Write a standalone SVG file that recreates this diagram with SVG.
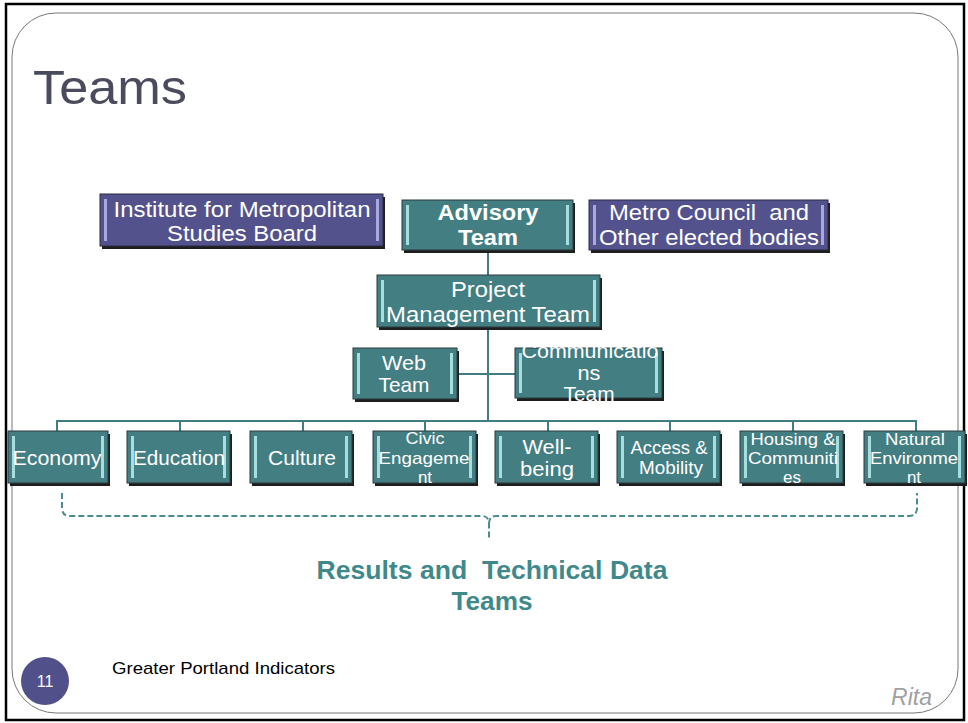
<svg xmlns="http://www.w3.org/2000/svg" width="968" height="723" viewBox="0 0 968 723">
<defs>
<style>
text{white-space:pre}
.t{font-family:"Liberation Sans",Arial,sans-serif;fill:#fff;text-anchor:middle}
.sh{fill:#1e1e1e}
.teal{fill:#437e82;stroke:#2a3a3c;stroke-width:1}
.purp{fill:#54528c;stroke:#2a2a40;stroke-width:1}
.hlt{fill:#a6dede}
.hlp{fill:#a9a8dc}
.con{fill:none;stroke:#3f7f83;stroke-width:2}
.dash{fill:none;stroke:#4a8c90;stroke-width:2;stroke-dasharray:6 3}
</style>
</defs>
<rect x="0" y="0" width="968" height="723" fill="#fff"/>
<rect x="6" y="4" width="958" height="716" fill="none" stroke="#000" stroke-width="2.5"/>
<rect x="12" y="13" width="946" height="700" rx="44" ry="44" fill="none" stroke="#777" stroke-width="1"/>
<text x="33" y="104" textLength="154" lengthAdjust="spacingAndGlyphs" style="font-family:'Liberation Sans',Arial,sans-serif;font-size:49px;fill:#4a4b5c">Teams</text>

<g id="connectors">
<line class="con" x1="488" y1="250" x2="488" y2="422"/>
<line class="con" x1="457" y1="374" x2="515" y2="374"/>
<polyline class="con" points="57,431 57,421 916,421 916,431"/>
<line class="con" x1="180" y1="421" x2="180" y2="431"/>
<line class="con" x1="303" y1="421" x2="303" y2="431"/>
<line class="con" x1="425" y1="421" x2="425" y2="431"/>
<line class="con" x1="548" y1="421" x2="548" y2="431"/>
<line class="con" x1="670" y1="421" x2="670" y2="431"/>
<line class="con" x1="793" y1="421" x2="793" y2="431"/>
<path class="dash" d="M62,493 V508 Q62,516 70,516 H482 Q489,516 489,524 V538 M489,524 Q489,516 496,516 H909 Q917,516 917,508 V493"/>
</g>

<g id="institute">
<rect class="sh" x="102" y="197" width="283" height="52"/>
<rect class="purp" x="100" y="194" width="283" height="52"/>
<rect class="hlp" x="104" y="199" width="3" height="42"/>
<rect class="hlp" x="376" y="199" width="3" height="42"/>
<text class="t" x="242" y="217" font-size="22" textLength="257" lengthAdjust="spacingAndGlyphs">Institute for Metropolitan</text>
<text class="t" x="242" y="241" font-size="22" textLength="150" lengthAdjust="spacingAndGlyphs">Studies Board</text>
</g>

<g id="advisory">
<rect class="sh" x="404" y="203" width="171" height="50"/>
<rect class="teal" x="402" y="200" width="171" height="50"/>
<rect class="hlt" x="406" y="205" width="3" height="40"/>
<rect class="hlt" x="566" y="205" width="3" height="40"/>
<text class="t" x="488" y="220" font-size="22" font-weight="bold" textLength="101" lengthAdjust="spacingAndGlyphs">Advisory</text>
<text class="t" x="488" y="245" font-size="22" font-weight="bold" textLength="60" lengthAdjust="spacingAndGlyphs">Team</text>
</g>

<g id="metro">
<rect class="sh" x="591" y="203" width="239" height="50"/>
<rect class="purp" x="589" y="200" width="239" height="50"/>
<rect class="hlp" x="593" y="205" width="3" height="40"/>
<rect class="hlp" x="821" y="205" width="3" height="40"/>
<text class="t" x="709" y="220" font-size="22" textLength="200" lengthAdjust="spacingAndGlyphs">Metro Council  and</text>
<text class="t" x="709" y="245" font-size="22" textLength="220" lengthAdjust="spacingAndGlyphs">Other elected bodies</text>
</g>

<g id="pmt">
<rect class="sh" x="379" y="278" width="223" height="52"/>
<rect class="teal" x="377" y="275" width="223" height="52"/>
<rect class="hlt" x="381" y="280" width="3" height="42"/>
<rect class="hlt" x="593" y="280" width="3" height="42"/>
<text class="t" x="488" y="297" font-size="22" textLength="74" lengthAdjust="spacingAndGlyphs">Project</text>
<text class="t" x="488" y="322" font-size="22" textLength="204" lengthAdjust="spacingAndGlyphs">Management Team</text>
</g>

<g id="web">
<rect class="sh" x="355" y="351" width="104" height="51"/>
<rect class="teal" x="353" y="348" width="104" height="51"/>
<rect class="hlt" x="357" y="353" width="3" height="41"/>
<rect class="hlt" x="450" y="353" width="3" height="41"/>
<text class="t" x="404" y="370" font-size="21" textLength="44" lengthAdjust="spacingAndGlyphs">Web</text>
<text class="t" x="404" y="392" font-size="21" textLength="51" lengthAdjust="spacingAndGlyphs">Team</text>
</g>

<g id="comm">
<rect class="sh" x="517" y="351" width="147" height="50"/>
<rect class="teal" x="515" y="348" width="147" height="50"/>
<rect class="hlt" x="519" y="353" width="3" height="40"/>
<rect class="hlt" x="655" y="353" width="3" height="40"/>
<text class="t" x="590" y="358" font-size="20" textLength="137" lengthAdjust="spacingAndGlyphs">Communicatio</text>
<text class="t" x="589" y="380" font-size="20" textLength="23" lengthAdjust="spacingAndGlyphs">ns</text>
<text class="t" x="589" y="401" font-size="20" textLength="51" lengthAdjust="spacingAndGlyphs">Team</text>
</g>

<g id="economy">
<rect class="sh" x="10" y="434" width="100" height="52"/>
<rect class="teal" x="8" y="431" width="100" height="52"/>
<rect class="hlt" x="12" y="436" width="3" height="42"/>
<rect class="hlt" x="101" y="436" width="3" height="42"/>
<text class="t" x="57" y="465" font-size="21" textLength="89" lengthAdjust="spacingAndGlyphs">Economy</text>
</g>

<g id="education">
<rect class="sh" x="129" y="434" width="103" height="52"/>
<rect class="teal" x="127" y="431" width="103" height="52"/>
<rect class="hlt" x="131" y="436" width="3" height="42"/>
<rect class="hlt" x="223" y="436" width="3" height="42"/>
<text class="t" x="179" y="465" font-size="21" textLength="92" lengthAdjust="spacingAndGlyphs">Education</text>
</g>

<g id="culture">
<rect class="sh" x="252" y="434" width="102" height="52"/>
<rect class="teal" x="250" y="431" width="102" height="52"/>
<rect class="hlt" x="254" y="436" width="3" height="42"/>
<rect class="hlt" x="345" y="436" width="3" height="42"/>
<text class="t" x="302" y="465" font-size="21" textLength="68" lengthAdjust="spacingAndGlyphs">Culture</text>
</g>

<g id="civic">
<rect class="sh" x="375" y="434" width="103" height="52"/>
<rect class="teal" x="373" y="431" width="103" height="52"/>
<rect class="hlt" x="377" y="436" width="3" height="42"/>
<rect class="hlt" x="469" y="436" width="3" height="42"/>
<text class="t" x="425" y="444" font-size="17" textLength="39" lengthAdjust="spacingAndGlyphs">Civic</text>
<text class="t" x="424" y="464" font-size="17" textLength="91" lengthAdjust="spacingAndGlyphs">Engageme</text>
<text class="t" x="425" y="483" font-size="17">nt</text>
</g>

<g id="wellbeing">
<rect class="sh" x="497" y="434" width="103" height="52"/>
<rect class="teal" x="495" y="431" width="103" height="52"/>
<rect class="hlt" x="499" y="436" width="3" height="42"/>
<rect class="hlt" x="591" y="436" width="3" height="42"/>
<text class="t" x="547" y="454" font-size="21" textLength="49" lengthAdjust="spacingAndGlyphs">Well-</text>
<text class="t" x="547" y="476" font-size="21" textLength="54" lengthAdjust="spacingAndGlyphs">being</text>
</g>

<g id="access">
<rect class="sh" x="619" y="434" width="103" height="52"/>
<rect class="teal" x="617" y="431" width="103" height="52"/>
<rect class="hlt" x="621" y="436" width="3" height="42"/>
<rect class="hlt" x="713" y="436" width="3" height="42"/>
<text class="t" x="669" y="454" font-size="18" textLength="77" lengthAdjust="spacingAndGlyphs">Access &amp;</text>
<text class="t" x="671" y="474" font-size="18" textLength="64" lengthAdjust="spacingAndGlyphs">Mobility</text>
</g>

<g id="housing">
<rect class="sh" x="742" y="434" width="103" height="52"/>
<rect class="teal" x="740" y="431" width="103" height="52"/>
<rect class="hlt" x="744" y="436" width="3" height="42"/>
<rect class="hlt" x="836" y="436" width="3" height="42"/>
<text class="t" x="793" y="445" font-size="17" textLength="85" lengthAdjust="spacingAndGlyphs">Housing &amp;</text>
<text class="t" x="793" y="464" font-size="17" textLength="90" lengthAdjust="spacingAndGlyphs">Communiti</text>
<text class="t" x="792" y="483" font-size="17">es</text>
</g>

<g id="natural">
<rect class="sh" x="866" y="434" width="101" height="52"/>
<rect class="teal" x="864" y="431" width="101" height="52"/>
<rect class="hlt" x="868" y="436" width="3" height="42"/>
<rect class="hlt" x="958" y="436" width="3" height="42"/>
<text class="t" x="915" y="445" font-size="17" textLength="60" lengthAdjust="spacingAndGlyphs">Natural</text>
<text class="t" x="914" y="464" font-size="17" textLength="88" lengthAdjust="spacingAndGlyphs">Environme</text>
<text class="t" x="914" y="483" font-size="17">nt</text>
</g>

<g id="results">
<text x="492" y="579" textLength="351" lengthAdjust="spacingAndGlyphs" style="font-family:'Liberation Sans',Arial,sans-serif;font-size:25px;font-weight:bold;fill:#3f898a;text-anchor:middle">Results and  Technical Data</text>
<text x="492" y="610" textLength="81" lengthAdjust="spacingAndGlyphs" style="font-family:'Liberation Sans',Arial,sans-serif;font-size:25px;font-weight:bold;fill:#3f898a;text-anchor:middle">Teams</text>
</g>

<g id="footer">
<circle cx="45" cy="681" r="24" fill="#52508a"/>
<text x="45" y="687" style="font-family:'Liberation Sans',Arial,sans-serif;font-size:16px;fill:#fff;text-anchor:middle">11</text>
<text x="112" y="674" textLength="223" lengthAdjust="spacingAndGlyphs" style="font-family:'Liberation Sans',Arial,sans-serif;font-size:17px;fill:#000">Greater Portland Indicators</text>
<text x="932" y="705" style="font-family:'Liberation Sans',Arial,sans-serif;font-size:23px;font-style:italic;fill:#a0a0a0;text-anchor:end">Rita</text>
</g>
</svg>
